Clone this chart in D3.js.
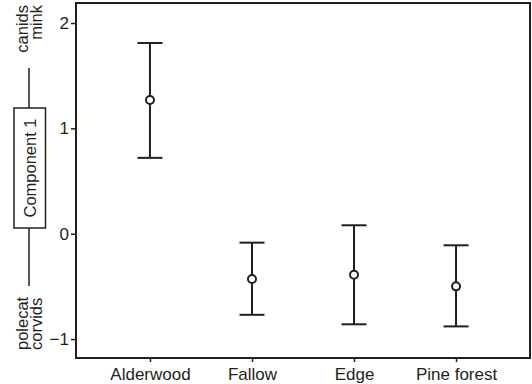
<!DOCTYPE html>
<head>
<meta charset="utf-8">
<style>
body { margin: 0; background: #fff; }
text { font-family: "Liberation Sans", Arial, sans-serif; fill: #231f20; }
</style>
</head>
<body>
<script src="https://d3js.org/d3.v7.min.js"></script>
<script>
// habitat categories and component 1 scores (mean with upper/lower limits)
var habitats = ["Alderwood", "Fallow", "Edge", "Pine forest"];
var means = [1.27, -0.43, -0.39, -0.50];
var upper = [1.81, -0.085, 0.08, -0.11];
var lower = [0.72, -0.77, -0.86, -0.88];
var yTicks = [-1, 0, 1, 2];

var width = 532, height = 384;
var plotL = 76, plotR = 530, plotT = 3, plotB = 358;
var ink = "#231f20";

var svg = d3.select("body").append("svg")
    .attr("width", width)
    .attr("height", height);

var x = d3.scalePoint()
    .domain(habitats)
    .range([plotL, plotR])
    .padding(0.725);

var y = d3.scaleLinear()
    .domain([-1.18, 2.19])
    .range([plotB, plotT]);

// frame
svg.append("rect")
    .attr("x", plotL)
    .attr("y", plotT)
    .attr("width", plotR - plotL)
    .attr("height", plotB - plotT)
    .attr("fill", "none")
    .attr("stroke", ink)
    .attr("stroke-width", 2);

var yAxis = svg.append("g")
    .attr("transform", "translate(" + plotL + ",0)")
    .call(d3.axisLeft(y).tickValues(yTicks).tickSize(5).tickPadding(2)
        .tickFormat(function (d) { return d < 0 ? "\u2212" + Math.abs(d) : d; }));
yAxis.select(".domain").remove();
yAxis.selectAll("line").attr("stroke", ink).attr("stroke-width", 1.5);
yAxis.selectAll("text").attr("font-size", 17).style("font-family", "Liberation Sans, Arial, sans-serif").attr("fill", ink);

var xAxis = svg.append("g")
    .attr("transform", "translate(0," + plotB + ")")
    .call(d3.axisBottom(x).tickSize(4).tickPadding(6));
xAxis.select(".domain").remove();
xAxis.selectAll("line").attr("stroke", ink).attr("stroke-width", 1.5);
xAxis.selectAll("text").attr("font-size", 17).style("font-family", "Liberation Sans, Arial, sans-serif").attr("fill", ink);

// error bars
var capHalf = 12.5;
var g = svg.append("g").attr("stroke", ink).attr("stroke-width", 2);
habitats.forEach(function (h, i) {
    var cx = x(h);
    g.append("line").attr("x1", cx).attr("x2", cx).attr("y1", y(upper[i])).attr("y2", y(lower[i]));
    g.append("line").attr("x1", cx - capHalf).attr("x2", cx + capHalf).attr("y1", y(upper[i])).attr("y2", y(upper[i]));
    g.append("line").attr("x1", cx - capHalf).attr("x2", cx + capHalf).attr("y1", y(lower[i])).attr("y2", y(lower[i]));
    g.append("circle").attr("cx", cx).attr("cy", y(means[i])).attr("r", 4).attr("fill", "#fff");
});

// left annotation
var ann = svg.append("g");
ann.append("line").attr("x1", 29).attr("x2", 29).attr("y1", 68).attr("y2", 286)
    .attr("stroke", ink).attr("stroke-width", 1.5);
ann.append("rect").attr("x", 14).attr("y", 108).attr("width", 31.5).attr("height", 120)
    .attr("fill", "#fff").attr("stroke", ink).attr("stroke-width", 1.5);
ann.append("text")
    .attr("transform", "translate(35.5,168) rotate(-90)")
    .attr("text-anchor", "middle")
    .attr("font-size", 16.5)
    .text("Component 1");

function vtext(tx, ty, anchor, s) {
    ann.append("text")
        .attr("transform", "translate(" + tx + "," + ty + ") rotate(-90)")
        .attr("text-anchor", anchor)
        .attr("font-size", 16.5)
        .text(s);
}
vtext(28, 5, "end", "canids");
vtext(41.5, 5, "end", "mink");
vtext(28, 350, "start", "polecat");
vtext(41.5, 350, "start", "corvids");
</script>
</body>
